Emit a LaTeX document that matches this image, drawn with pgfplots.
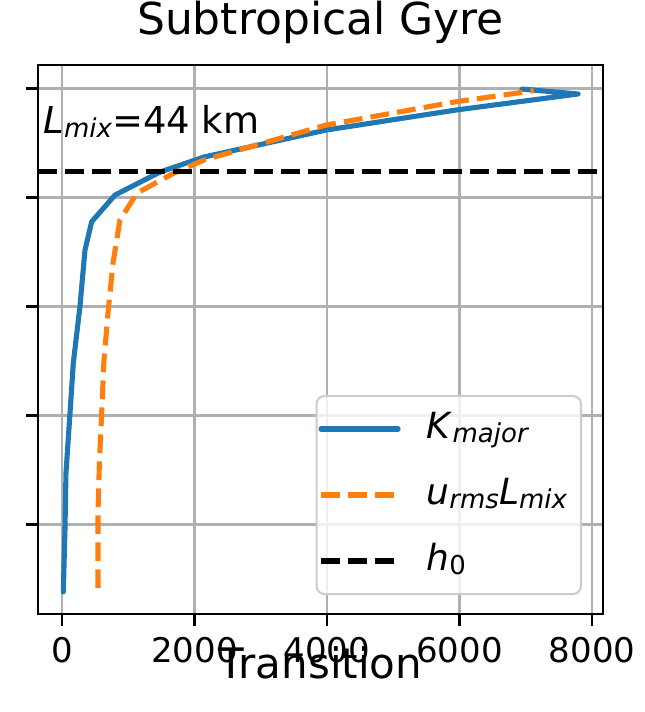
\documentclass[border=0pt]{standalone}
\usepackage{fontspec}
\setmainfont{DejaVu Sans}
\usepackage{pgfplots}
\pgfplotsset{compat=1.18}

\definecolor{mplblue}{HTML}{1F77B4}
\definecolor{mplorange}{HTML}{FF7F0E}
\definecolor{mplgrid}{HTML}{B0B0B0}
\definecolor{legframe}{HTML}{CCCCCC}

% subscript in the style of mathtext
\newcommand{\sub}[1]{\raisebox{-0.12em}{\fontsize{13pt}{13pt}\selectfont #1}}

\begin{document}
\begin{tikzpicture}
\begin{axis}[
  scale only axis,
  width=282.5pt, height=274.5pt,
  xmin=-362, xmax=8166,
  ymin=-4.82, ymax=0.216,
  xtick={0,2000,4000,6000,8000},
  ytick={0,-1,-2,-3,-4},
  yticklabels={},
  scaled x ticks=false,
  /pgf/number format/.cd, 1000 sep={}, assume math mode=true,
  /pgfplots/.cd,
  tick align=outside,
  tick pos=left,
  major tick length=6pt,
  every tick/.style={black, line width=1.3pt},
  axis line style={black, line width=1.3pt},
  grid=major,
  major grid style={mplgrid, line width=1.3pt},
  ticklabel style={font=\fontsize{17pt}{20pt}\selectfont},
  xticklabel style={yshift=-2pt},
  title={Subtropical Gyre},
  title style={font=\fontsize{22pt}{26pt}\selectfont, at={(axis description cs:0.5,1)}, anchor=base, yshift=9pt},
  xlabel={Transition},
  xlabel style={font=\fontsize{21pt}{25pt}\selectfont, at={(axis description cs:0.5,0)}, anchor=base, yshift=-32pt},
  legend style={
    at={(axis description cs:1,0)}, anchor=south east,
    xshift=-10.5pt, yshift=9.5pt,
    draw=legframe, line width=1pt, rounded corners=4pt,
    fill=white, fill opacity=0.8, text opacity=1,
    inner xsep=1pt, inner ysep=5pt,
    font=\fontsize{18pt}{21pt}\selectfont,
    row sep=10pt,
    nodes={inner xsep=6pt, text height=14pt, text depth=5pt},
    /tikz/every odd column/.style={column sep=7pt},
  },
  legend cell align=left,
  legend image code/.code={\draw[#1] (0pt,0pt) -- (38.5pt,0pt);},
]

% K_major profile
\addplot[mplblue, line width=2.55pt, line join=round, line cap=round] coordinates {
  (20,-4.617) (45,-4.05) (60,-3.528) (121,-2.977) (171,-2.518)
  (272,-1.995) (347,-1.482) (448,-1.222) (800,-0.977) (1479,-0.766)
  (2143,-0.628) (3985,-0.381) (5947,-0.197) (7789,-0.050) (6943,-0.005)
};
\addlegendentry{\textit{K}\sub{\itshape major}}

% u_rms * L_mix profile
\addplot[mplorange, line width=2.55pt, dash pattern=on 9.4pt off 4.1pt] coordinates {
  (543,-4.583) (543,-3.894) (566,-3.408) (599,-2.977) (634,-2.491)
  (694,-2.060) (770,-1.601) (875,-1.206) (1132,-0.959) (1691,-0.775)
  (2143,-0.656) (3985,-0.335) (5947,-0.121) (7120,-0.020)
};
\addlegendentry{\textit{u}\sub{\itshape rms}\textit{L}\sub{\itshape mix}}

% mixed-layer depth h0
\addplot[black, line width=2.55pt, dash pattern=on 9.4pt off 4.1pt] coordinates {
  (-362,-0.757) (8166,-0.757)
};
\addlegendentry{\textit{h}\sub{0}}

\node[anchor=base west, inner sep=0pt, font=\fontsize{18.5pt}{21pt}\selectfont]
  at (axis description cs:0.009,0.876) {\textit{L}\sub{\itshape mix}=44 km};

\end{axis}
\pgfresetboundingbox
\path (-19pt,-49pt) rectangle (303pt,307pt);
\end{tikzpicture}
\end{document}
